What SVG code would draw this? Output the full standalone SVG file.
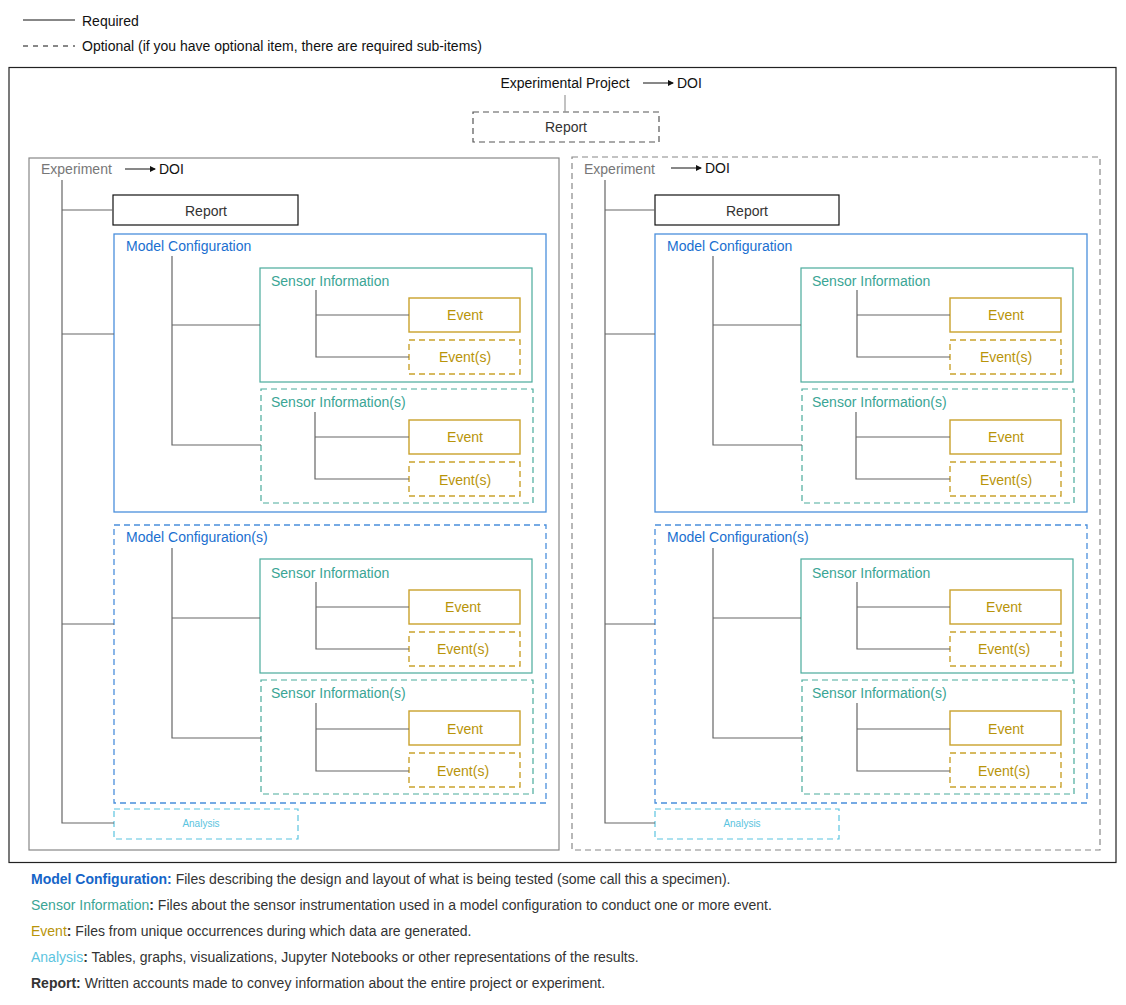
<svg xmlns="http://www.w3.org/2000/svg" width="1126" height="1005" viewBox="0 0 1126 1005">
<style>
text{font-family:"Liberation Sans",Arial,sans-serif;font-size:14px;dominant-baseline:central}
.c{text-anchor:middle}
.conn{stroke:#666;stroke-width:1.2;fill:none}
.dash{stroke-dasharray:6 4}
.rep{fill:#fff;stroke:#111;stroke-width:1.2}
.repo{fill:#fff;stroke:#555;stroke-width:1.2;stroke-dasharray:6 4}
.mc{fill:#fff;stroke:#4a8fdc;stroke-width:1.3}
.mct{fill:#1a6fd0}
.si{fill:#fff;stroke:#4aab9c;stroke-width:1.2}
.sit{fill:#3aa595}
.ev{fill:#fff;stroke:#c9a22c;stroke-width:1.4}
.evt{fill:#b8940a}
.an{fill:#fff;stroke:#5bc4e0;stroke-width:1.2;stroke-dasharray:6 4}
.ant{fill:#5bc4e0;font-size:10px}
.exp{fill:none;stroke:#888;stroke-width:1.2}
.expt{fill:#777}
.leg{font-size:14px;fill:#333}
</style>
<defs>
<marker id="arr" markerWidth="6" markerHeight="6" refX="5" refY="3" orient="auto" markerUnits="userSpaceOnUse"><path d="M0,0 L6,3 L0,6 z" fill="#111"/></marker>
</defs>
<rect width="1126" height="1005" fill="#fff"/>

<g id="legend-top">
<line x1="23" y1="20" x2="75" y2="20" stroke="#111" stroke-width="1"/>
<text x="82" y="21" class="leg" style="fill:#111">Required</text>
<line x1="23" y1="46" x2="75" y2="46" stroke="#111" stroke-width="1" stroke-dasharray="5 5"/>
<text x="82" y="46" class="leg" style="fill:#111">Optional (if you have optional item, there are required sub-items)</text>
</g>

<g id="project">
<rect x="9" y="67.5" width="1107" height="795" fill="none" stroke="#222" stroke-width="1.2"/>
<text x="565" y="83" class="c" style="fill:#111">Experimental Project</text>
<text x="677" y="83" style="fill:#111">DOI</text>
</g>
<g id="project-report">
<rect x="473" y="112" width="186" height="30" class="repo"/>
<text x="566" y="127" class="c" style="fill:#333">Report</text>
</g>

<!-- Left experiment -->
<g id="exp1">
<rect x="29" y="158" width="530" height="692" class="exp"/>
<text x="41" y="169" class="expt">Experiment</text>
<text x="159" y="169" style="fill:#111">DOI</text>
</g>
<g id="exp1-report"><rect x="113" y="195" width="185" height="30" class="rep"/><text x="206" y="211" class="c" style="fill:#333">Report</text></g>
<g id="exp1-mc1"><rect x="114" y="234" width="432" height="278" class="mc"/><text x="126" y="246" class="mct">Model Configuration</text></g>
<g id="exp1-mc1-si1"><rect x="260" y="268" width="272" height="114" class="si"/><text x="271" y="281" class="sit">Sensor Information</text></g>
<g id="exp1-mc1-si1-ev1"><rect x="409" y="298" width="111" height="34" class="ev"/><text x="465" y="315" class="c evt">Event</text></g>
<g id="exp1-mc1-si1-ev2"><rect x="409" y="340" width="111" height="34" class="ev dash"/><text x="465" y="357" class="c evt">Event(s)</text></g>
<g id="exp1-mc1-si2"><rect x="261" y="389" width="272" height="114" class="si dash"/><text x="271" y="402" class="sit">Sensor Information(s)</text></g>
<g id="exp1-mc1-si2-ev1"><rect x="409" y="420" width="111" height="34" class="ev"/><text x="465" y="437" class="c evt">Event</text></g>
<g id="exp1-mc1-si2-ev2"><rect x="409" y="462" width="111" height="34" class="ev dash"/><text x="465" y="480" class="c evt">Event(s)</text></g>
<g id="exp1-mc2"><rect x="114" y="525" width="432" height="278" class="mc dash"/><text x="126" y="537" class="mct">Model Configuration(s)</text></g>
<g id="exp1-mc2-si1"><rect x="260" y="559" width="272" height="114" class="si"/><text x="271" y="573" class="sit">Sensor Information</text></g>
<g id="exp1-mc2-si1-ev1"><rect x="409" y="590" width="111" height="34" class="ev"/><text x="463" y="607" class="c evt">Event</text></g>
<g id="exp1-mc2-si1-ev2"><rect x="409" y="632" width="111" height="34" class="ev dash"/><text x="463" y="649" class="c evt">Event(s)</text></g>
<g id="exp1-mc2-si2"><rect x="261" y="680" width="272" height="114" class="si dash"/><text x="271" y="693" class="sit">Sensor Information(s)</text></g>
<g id="exp1-mc2-si2-ev1"><rect x="409" y="711" width="111" height="34" class="ev"/><text x="465" y="729" class="c evt">Event</text></g>
<g id="exp1-mc2-si2-ev2"><rect x="409" y="753" width="111" height="34" class="ev dash"/><text x="463" y="771" class="c evt">Event(s)</text></g>
<g id="exp1-analysis"><rect x="114" y="809" width="184" height="30" class="an"/><text x="201" y="823" class="c ant">Analysis</text></g>

<!-- Right experiment -->
<g id="exp2">
<rect x="572" y="157" width="528" height="693" class="exp dash"/>
<text x="584" y="169" class="expt">Experiment</text>
<text x="705" y="168" style="fill:#111">DOI</text>
</g>
<g id="exp2-report"><rect x="655" y="195" width="184" height="30" class="rep"/><text x="747" y="211" class="c" style="fill:#333">Report</text></g>
<g id="exp2-mc1"><rect x="655" y="234" width="432" height="278" class="mc"/><text x="667" y="246" class="mct">Model Configuration</text></g>
<g id="exp2-mc1-si1"><rect x="801" y="268" width="272" height="114" class="si"/><text x="812" y="281" class="sit">Sensor Information</text></g>
<g id="exp2-mc1-si1-ev1"><rect x="950" y="298" width="111" height="34" class="ev"/><text x="1006" y="315" class="c evt">Event</text></g>
<g id="exp2-mc1-si1-ev2"><rect x="950" y="340" width="111" height="34" class="ev dash"/><text x="1006" y="357" class="c evt">Event(s)</text></g>
<g id="exp2-mc1-si2"><rect x="802" y="389" width="272" height="114" class="si dash"/><text x="812" y="402" class="sit">Sensor Information(s)</text></g>
<g id="exp2-mc1-si2-ev1"><rect x="950" y="420" width="111" height="34" class="ev"/><text x="1006" y="437" class="c evt">Event</text></g>
<g id="exp2-mc1-si2-ev2"><rect x="950" y="462" width="111" height="34" class="ev dash"/><text x="1006" y="480" class="c evt">Event(s)</text></g>
<g id="exp2-mc2"><rect x="655" y="525" width="432" height="278" class="mc dash"/><text x="667" y="537" class="mct">Model Configuration(s)</text></g>
<g id="exp2-mc2-si1"><rect x="801" y="559" width="272" height="114" class="si"/><text x="812" y="573" class="sit">Sensor Information</text></g>
<g id="exp2-mc2-si1-ev1"><rect x="950" y="590" width="111" height="34" class="ev"/><text x="1004" y="607" class="c evt">Event</text></g>
<g id="exp2-mc2-si1-ev2"><rect x="950" y="632" width="111" height="34" class="ev dash"/><text x="1004" y="649" class="c evt">Event(s)</text></g>
<g id="exp2-mc2-si2"><rect x="802" y="680" width="272" height="114" class="si dash"/><text x="812" y="693" class="sit">Sensor Information(s)</text></g>
<g id="exp2-mc2-si2-ev1"><rect x="950" y="711" width="111" height="34" class="ev"/><text x="1006" y="729" class="c evt">Event</text></g>
<g id="exp2-mc2-si2-ev2"><rect x="950" y="753" width="111" height="34" class="ev dash"/><text x="1004" y="771" class="c evt">Event(s)</text></g>
<g id="exp2-analysis"><rect x="655" y="809" width="184" height="30" class="an"/><text x="742" y="823" class="c ant">Analysis</text></g>

<g id="connectors">
<line x1="643" y1="83" x2="673" y2="83" stroke="#111" stroke-width="1" marker-end="url(#arr)"/>
<line x1="565" y1="95" x2="565" y2="112" stroke="#999" stroke-width="1.2"/>
<line x1="125" y1="169" x2="155" y2="169" stroke="#111" stroke-width="1" marker-end="url(#arr)"/>
<line x1="671" y1="168" x2="701" y2="168" stroke="#111" stroke-width="1" marker-end="url(#arr)"/>
<!-- left -->
<path class="conn" d="M62,180 V823 H114 M62,210 H113 M62,334 H114 M62,624 H114"/>
<path class="conn" d="M172,256 V445 H261 M172,325 H260"/>
<path class="conn" d="M316,290 V357 H409 M316,315 H409"/>
<path class="conn" d="M315,412 V479 H409 M315,437 H409"/>
<path class="conn" d="M172,548 V738 H261 M172,618 H260"/>
<path class="conn" d="M316,582 V649 H409 M316,607 H409"/>
<path class="conn" d="M316,703 V771 H409 M316,729 H409"/>
<!-- right -->
<path class="conn" d="M605,180 V823 H655 M605,210 H655 M605,334 H655 M605,624 H655"/>
<path class="conn" d="M713,256 V445 H802 M713,325 H801"/>
<path class="conn" d="M857,290 V357 H950 M857,315 H950"/>
<path class="conn" d="M856,412 V479 H950 M856,437 H950"/>
<path class="conn" d="M713,548 V738 H802 M713,618 H801"/>
<path class="conn" d="M857,582 V649 H950 M857,607 H950"/>
<path class="conn" d="M857,703 V771 H950 M857,729 H950"/>
</g>

<g id="legend-bottom" class="leg">
<text x="31" y="879" class="leg"><tspan style="fill:#1565c8;font-weight:bold">Model Configuration:</tspan> Files describing the design and layout of what is being tested (some call this a specimen).</text>
<text x="31" y="905" class="leg"><tspan style="fill:#3aa595">Sensor Information</tspan><tspan style="font-weight:bold">:</tspan> Files about the sensor instrumentation used in a model configuration to conduct one or more event.</text>
<text x="31" y="931" class="leg"><tspan style="fill:#b8940a">Event</tspan><tspan style="font-weight:bold">:</tspan> Files from unique occurrences during which data are generated.</text>
<text x="31" y="957" class="leg"><tspan style="fill:#5bc4e0">Analysis</tspan><tspan style="font-weight:bold">:</tspan> Tables, graphs, visualizations, Jupyter Notebooks or other representations of the results.</text>
<text x="31" y="983" class="leg"><tspan style="font-weight:bold">Report:</tspan> Written accounts made to convey information about the entire project or experiment.</text>
</g>
</svg>
